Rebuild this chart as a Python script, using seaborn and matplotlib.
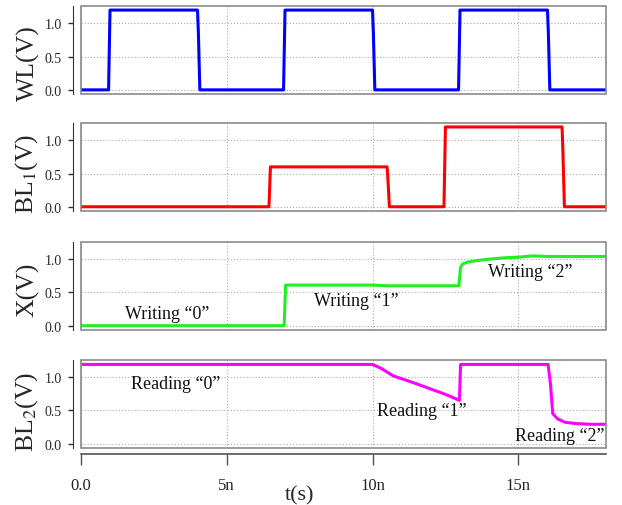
import numpy as np
import pandas as pd
import matplotlib
matplotlib.use("Agg")
import matplotlib.pyplot as plt
from matplotlib.patches import Rectangle
import seaborn as sns

# datos (tiempo en ns, tension en V)
t_wl = [0, 0.95, 1.0, 4.0, 4.03, 4.08, 6.95, 7.0, 10.0, 10.03, 10.08, 12.95, 13.0, 16.0, 16.03, 16.08, 18]
v_wl = [0, 0, 1.2, 1.2, 0.85, 0, 0, 1.2, 1.2, 0.85, 0, 0, 1.2, 1.2, 0.85, 0, 0]

t_bl1 = [0, 6.45, 6.5, 10.5, 10.53, 10.58, 12.45, 12.5, 16.5, 16.53, 16.58, 18]
v_bl1 = [0, 0, 0.6, 0.6, 0.4, 0, 0, 1.2, 1.2, 0.8, 0, 0]

t_x = [0, 6.97, 7.02, 9.0, 10.0, 10.5, 12.0, 12.96, 13.02, 13.1, 13.3, 13.6, 14.0, 14.5, 15.0, 15.5, 16.0, 18]
v_x = [0, 0, 0.61, 0.61, 0.61, 0.60, 0.60, 0.60, 0.88, 0.93, 0.96, 0.98, 1.0, 1.02, 1.03, 1.05, 1.04, 1.04]

t_bl2 = [0, 10.0, 10.3, 10.7, 11.5, 12.5, 12.98, 13.02, 16.02, 16.1, 16.18, 16.35, 16.6, 17.0, 17.5, 18]
v_bl2 = [1.19, 1.19, 1.13, 1.02, 0.9, 0.74, 0.65, 1.19, 1.19, 0.9, 0.45, 0.37, 0.32, 0.30, 0.29, 0.29]

ylabels = ["WL(V)", "BL$_1$(V)", "X(V)", "BL$_2$(V)"]
colores = ["#0000ff", "#ff0000", "#22ee22", "#ff00ff"]
xticks = [0, 5, 10, 15]
xticklabels = ["0.0", "5n", "10n", "15n"]
yticks = [0.0, 0.5, 1.0]
yticklabels = ["0.0", "0.5", "1.0"]

textos = [
    (2, "Writing \u201c0\u201d", 2.95, 0.18),
    (2, "Writing \u201c1\u201d", 9.45, 0.38),
    (2, "Writing \u201c2\u201d", 15.4, 0.81),
    (3, "Reading \u201c0\u201d", 3.25, 0.90),
    (3, "Reading \u201c1\u201d", 11.7, 0.49),
    (3, "Reading \u201c2\u201d", 16.42, 0.12),
]

sns.set_style("white")
plt.rcParams["font.family"] = ["Liberation Serif", "DejaVu Serif"]
plt.rcParams["mathtext.fontset"] = "stix"

senales = [(t_wl, v_wl), (t_bl1, v_bl1), (t_x, v_x), (t_bl2, v_bl2)]

fig = plt.figure(figsize=(6.22, 5.06), dpi=100)
bottoms = [0.812, 0.581, 0.346, 0.113]
ylab_y = [0.36, 0.43, 0.47, 0.42]
axes = []
for i, (t, v) in enumerate(senales):
    ax = fig.add_axes([0.130, bottoms[i], 0.844, 0.174])
    df = pd.DataFrame({"t": t, "v": v})
    sns.lineplot(data=df, x="t", y="v", ax=ax, color=colores[i], linewidth=2.2,
                 estimator=None, sort=False)
    ax.set_xlim(0, 18)
    ax.set_ylim(-0.064, 1.26)
    ax.set_yticks(yticks)
    ax.set_yticklabels(yticklabels, fontsize=12.5)
    ax.set_xticks(xticks)
    ax.grid(True, color="#aaaaaa", linestyle=(0, (1, 1.8)), linewidth=0.8)
    ax.set_ylabel(ylabels[i], fontsize=18.5)
    ax.yaxis.set_label_coords(-0.078, ylab_y[i])
    ax.set_xlabel("")

    # marco gris
    ax.add_patch(Rectangle((0, 0), 1, 1, transform=ax.transAxes, fill=False,
                           edgecolor="#8a8a8a", linewidth=1.2, clip_on=False, zorder=5))
    for s in ["top", "right"]:
        ax.spines[s].set_visible(False)
    ax.spines["left"].set_position(("outward", 5.8))
    ax.spines["left"].set_color("#333333")
    ax.tick_params(axis="y", left=True, direction="out", length=3.6, width=1,
                   color="#333333", pad=4.5)

    if i < 3:
        ax.spines["bottom"].set_visible(False)
        ax.tick_params(axis="x", bottom=False, length=0, labelbottom=False)
    else:
        ax.spines["bottom"].set_position(("outward", 4.3))
        ax.spines["bottom"].set_color("#555555")
        ax.spines["bottom"].set_linewidth(1.2)
        ax.tick_params(axis="x", bottom=True, direction="out", length=8, width=1,
                       color="#555555", pad=9)
        ax.set_xticklabels(xticklabels, fontsize=12)
        ax.set_xlabel("t(s)", fontsize=16)
        ax.xaxis.label.set_va("center")
        ax.xaxis.set_label_coords(0.417, -0.53)
    axes.append(ax)

for idx, txt, x, y in textos:
    axes[idx].text(x, y, txt, fontsize=13, ha="center", va="center", color="#111111")

fig.savefig("out.png", dpi=100)
